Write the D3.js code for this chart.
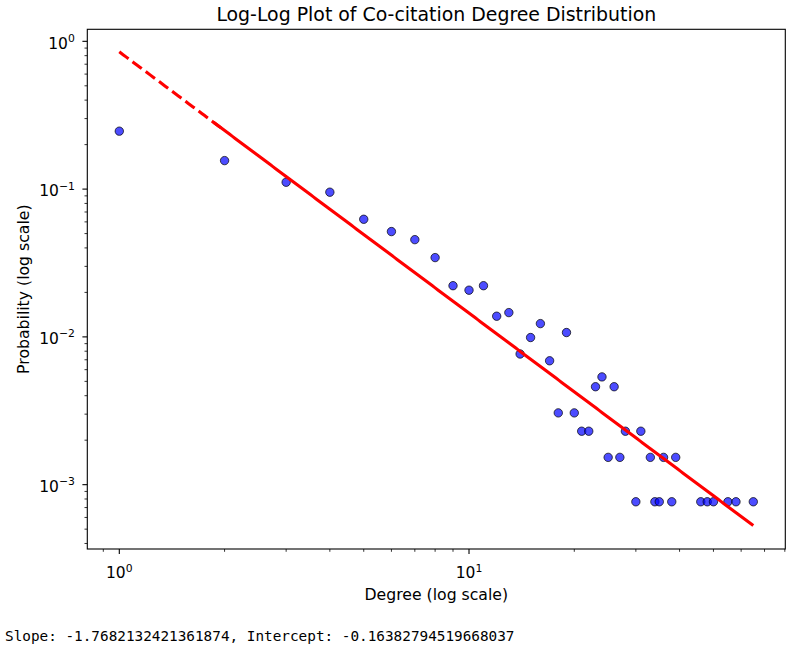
<!DOCTYPE html>
<html>
<head>
<meta charset="utf-8">
<script src="https://cdn.jsdelivr.net/npm/d3@7"></script>
<style>
  html, body { margin: 0; padding: 0; background: #fff; }
  svg { display: block; }
</style>
</head>
<body>
<script>
// ---- data ----
const degrees = [1, 2, 3, 4, 5, 6, 7, 8, 9, 10, 11, 12, 13, 14, 15, 16, 17, 18, 19, 20,
  21, 22, 23, 24, 25, 26, 27, 28, 30, 31, 33, 34, 35, 36, 38, 39, 46, 48, 50, 55, 58, 65];
const probabilities = [0.2466, 0.1559, 0.1113, 0.0953, 0.0625, 0.0516, 0.0455, 0.0344, 0.0222, 0.0207,
  0.0222, 0.0138, 0.0146, 0.00766, 0.0099, 0.0123, 0.00689, 0.00306, 0.0107, 0.00306,
  0.0023, 0.0023, 0.0046, 0.00536, 0.00153, 0.0046, 0.00153, 0.0023, 0.000766, 0.0023,
  0.00153, 0.000766, 0.000766, 0.00153, 0.000766, 0.00153, 0.000766, 0.000766, 0.000766, 0.000766,
  0.000766, 0.000766];
const slope = -1.7682132421361874;
const intercept = -0.16382794519668037; // natural-log intercept
const xMajorTicks = [1, 10];
const yMajorTicks = [1, 0.1, 0.01, 0.001];
const xTickExp = ["0", "1"];
const yTickExp = ["0", "\u22121", "\u22122", "\u22123"];
const titleText = "Log-Log Plot of Co-citation Degree Distribution";
const xLabel = "Degree (log scale)";
const yLabel = "Probability (log scale)";
const footer = "Slope: -1.7682132421361874, Intercept: -0.16382794519668037";

// ---- layout ----
const W = 795, H = 652;
const L = 87.3, R = 785.3, T = 29.3, B = 549;

const svg = d3.select("body").append("svg").attr("width", W).attr("height", H)
  .style("font-family", "'DejaVu Sans', sans-serif");

const x = d3.scaleLog().domain([0.81, 80.25]).range([L, R]);
const y = d3.scaleLog().domain([1.206, 3.67e-4]).range([T, B]);

// minor ticks
const xMinor = [];
for (let d = 0.1; d < 100; d *= 10) for (let m = 2; m <= 9; m++) { const v = m * d; if (v >= 0.81 && v <= 80.25) xMinor.push(v); }
const yMinor = [];
for (let d = 1e-4; d < 1; d *= 10) for (let m = 2; m <= 9; m++) { const v = m * d; if (v >= 3.67e-4 && v <= 1.206) yMinor.push(v); }

const g = svg.append("g");

// tick marks
g.selectAll(".xmin").data(xMinor).enter().append("line")
  .attr("x1", d => x(d)).attr("x2", d => x(d)).attr("y1", B).attr("y2", B + 2.8)
  .attr("stroke", "#000").attr("stroke-width", 0.8);
g.selectAll(".xmaj").data(xMajorTicks).enter().append("line")
  .attr("x1", d => x(d)).attr("x2", d => x(d)).attr("y1", B).attr("y2", B + 4.9)
  .attr("stroke", "#000").attr("stroke-width", 1.1);
g.selectAll(".ymin").data(yMinor).enter().append("line")
  .attr("y1", d => y(d)).attr("y2", d => y(d)).attr("x1", L).attr("x2", L - 2.8)
  .attr("stroke", "#000").attr("stroke-width", 0.8);
g.selectAll(".ymaj").data(yMajorTicks).enter().append("line")
  .attr("y1", d => y(d)).attr("y2", d => y(d)).attr("x1", L).attr("x2", L - 4.9)
  .attr("stroke", "#000").attr("stroke-width", 1.1);

// tick labels
xMajorTicks.forEach((v, i) => {
  const t = g.append("text").attr("x", x(v)).attr("y", B + 29.3).attr("text-anchor", "middle")
    .attr("font-size", 15.5).attr("fill", "#000");
  t.append("tspan").text("10");
  t.append("tspan").attr("dy", -6.8).attr("font-size", 10.8).text(xTickExp[i]);
});
yMajorTicks.forEach((v, i) => {
  const t = g.append("text").attr("x", L - 12.5).attr("y", y(v) + 7.3).attr("text-anchor", "end")
    .attr("font-size", 15.5).attr("fill", "#000");
  t.append("tspan").text("10");
  t.append("tspan").attr("dy", -6.8).attr("font-size", 10.8).text(yTickExp[i]);
});

// clip
svg.append("clipPath").attr("id", "clip").append("rect")
  .attr("x", L).attr("y", T).attr("width", R - L).attr("height", B - T);
const plot = svg.append("g").attr("clip-path", "url(#clip)");

// points
plot.selectAll("circle").data(degrees).enter().append("circle")
  .attr("cx", d => x(d)).attr("cy", (d, i) => y(probabilities[i]))
  .attr("r", 4.2)
  .attr("fill", "rgb(0,0,255)").attr("fill-opacity", 0.7)
  .attr("stroke", "#000").attr("stroke-opacity", 0.7).attr("stroke-width", 1);

// fit line
const fit = k => Math.exp(intercept) * Math.pow(k, slope);
const line = d3.line().x(d => x(d)).y(d => y(fit(d)));
const kMin = d3.min(degrees), kMax = d3.max(degrees);
const dashedPart = d3.range(0, 41).map(i => kMin + (degrees[1] - kMin) * i / 40);
const solidPart = d3.range(0, 201).map(i => Math.exp(Math.log(1.86) + (Math.log(kMax) - Math.log(1.86)) * i / 200));
plot.append("path").attr("d", line(dashedPart)).attr("fill", "none")
  .attr("stroke", "red").attr("stroke-width", 3.1).attr("stroke-dasharray", "11.5,5");
plot.append("path").attr("d", line(solidPart)).attr("fill", "none")
  .attr("stroke", "red").attr("stroke-width", 3.1);

// frame
svg.append("rect").attr("x", L).attr("y", T).attr("width", R - L).attr("height", B - T)
  .attr("fill", "none").attr("stroke", "#000").attr("stroke-width", 1.1);

// title and labels
svg.append("text").attr("x", (L + R) / 2).attr("y", 21).attr("text-anchor", "middle")
  .attr("font-size", 18.9).attr("fill", "#000").text(titleText);
svg.append("text").attr("x", (L + R) / 2).attr("y", 600).attr("text-anchor", "middle")
  .attr("font-size", 15.7).attr("fill", "#000").text(xLabel);
svg.append("text").attr("transform", `translate(29,${(T + B) / 2}) rotate(-90)`)
  .attr("text-anchor", "middle").attr("font-size", 15.7).attr("fill", "#000").text(yLabel);

// footer
svg.append("text").attr("x", 5).attr("y", 641)
  .attr("font-family", "'DejaVu Sans Mono', 'Liberation Mono', monospace")
  .attr("font-size", 14.35).attr("fill", "#000").text(footer);
</script>
</body>
</html>
